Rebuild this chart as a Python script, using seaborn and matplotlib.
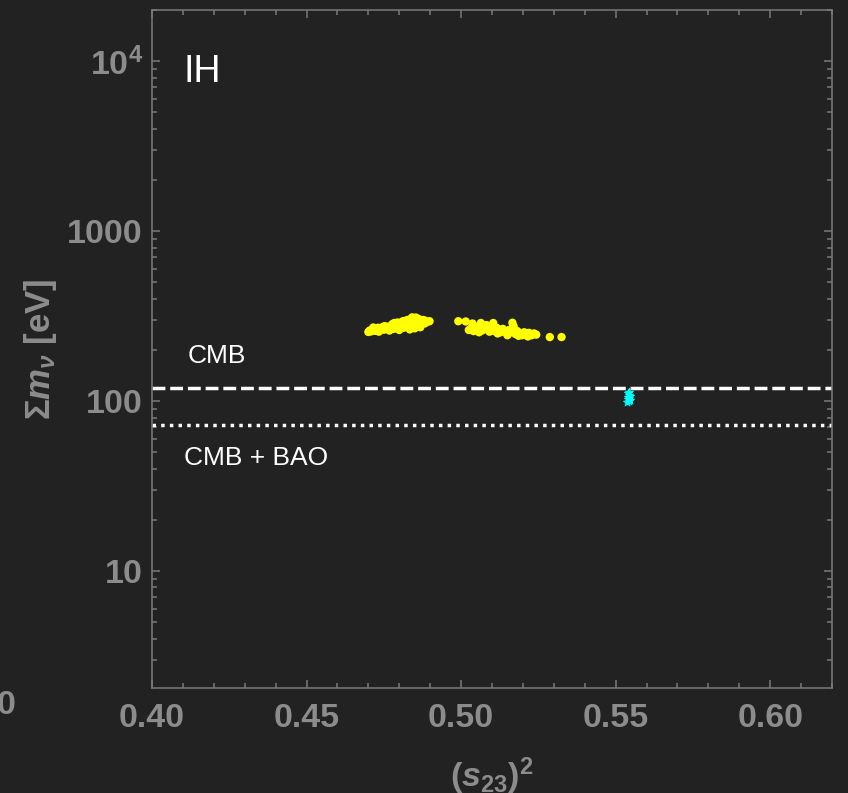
import matplotlib
matplotlib.use("Agg")
import matplotlib.pyplot as plt
import matplotlib.ticker as mticker
import pandas as pd
import seaborn as sns

# yellow points, two clusters
s23_yellow = [
    0.4700, 0.4704, 0.4709, 0.4713, 0.4718, 0.4722, 0.4727, 0.4731, 0.4736, 0.4740,
    0.4745, 0.4750, 0.4755, 0.4760, 0.4765, 0.4770, 0.4774, 0.4778, 0.4782, 0.4786,
    0.4790, 0.4794, 0.4798, 0.4802, 0.4806, 0.4810, 0.4814, 0.4818, 0.4822, 0.4826,
    0.4830, 0.4833, 0.4836, 0.4839, 0.4842, 0.4845, 0.4848, 0.4851, 0.4854, 0.4857,
    0.4860, 0.4863, 0.4866, 0.4870, 0.4874, 0.4878, 0.4882, 0.4886, 0.4890, 0.4898,
    0.4716, 0.4734, 0.4752, 0.4768, 0.4784, 0.4800, 0.4816, 0.4834, 0.4850, 0.4868,
    0.4991, 0.5015, 0.5037, 0.5064, 0.5104, 0.5166,
    0.5025, 0.5032, 0.5040, 0.5048, 0.5055, 0.5062, 0.5068, 0.5075, 0.5082, 0.5088,
    0.5095, 0.5102, 0.5108, 0.5115, 0.5122, 0.5128, 0.5135, 0.5142, 0.5148, 0.5155,
    0.5162, 0.5170, 0.5176, 0.5182, 0.5190, 0.5197, 0.5204, 0.5212, 0.5220, 0.5228,
    0.5236, 0.5243, 0.5058, 0.5092, 0.5118, 0.5150, 0.5186, 0.5216,
    0.5287, 0.5325,
]
sum_m_yellow = [
    255, 260, 257, 262, 266, 259, 264, 270, 261, 267,
    272, 263, 268, 274, 264, 270, 278, 284, 266, 274,
    282, 290, 268, 277, 286, 294, 270, 280, 290, 300,
    272, 284, 296, 306, 311, 276, 288, 300, 310, 280,
    292, 304, 286, 298, 290, 300, 286, 296, 292, 295,
    271, 256, 276, 260, 288, 262, 296, 264, 268, 272,
    295, 294, 286, 288, 288, 289,
    262, 268, 258, 272, 264, 276, 260, 270, 280, 262,
    272, 266, 258, 270, 262, 254, 266, 258, 250, 262,
    254, 276, 248, 258, 250, 244, 254, 246, 252, 244,
    250, 246, 254, 256, 250, 244, 242, 240,
    238, 238,
]

# cyan points
s23_cyan = [0.5538, 0.5542, 0.5546, 0.5540, 0.5544, 0.5539, 0.5545, 0.5542, 0.5541, 0.5543]
sum_m_cyan = [99, 100, 101, 103, 104, 106, 107, 109, 111, 113]

cmb_limit = 120
cmb_bao_limit = 72

x_ticks = [0.40, 0.45, 0.50, 0.55, 0.60]
x_tick_labels = ["0.40", "0.45", "0.50", "0.55", "0.60"]
y_ticks = [10, 100, 1000, 10000]
y_tick_labels = ["10", "100", "1000", "$\\mathbf{10^4}$"]

BG = "#222222"
GREY = "#8c8c8c"
FRAME = "#7a7a7a"

sns.set_style("dark", {"axes.facecolor": BG, "figure.facecolor": BG})
plt.rcParams["font.family"] = ["Liberation Sans", "DejaVu Sans"]
plt.rcParams.update({
    "mathtext.fontset": "custom",
    "mathtext.rm": "Liberation Sans:bold",
    "mathtext.it": "Liberation Sans:italic:bold",
    "mathtext.bf": "Liberation Sans:bold",
})

fig = plt.figure(figsize=(8.48, 7.93), dpi=100)
ax = fig.add_axes([152 / 848, 1 - 688 / 793, 680 / 848, 678 / 793])

df_y = pd.DataFrame({"s23": s23_yellow, "summ": sum_m_yellow})
df_c = pd.DataFrame({"s23": s23_cyan, "summ": sum_m_cyan})

sns.scatterplot(data=df_y, x="s23", y="summ", color="#ffff00", s=36,
                edgecolor="none", linewidth=0, ax=ax)
sns.scatterplot(data=df_c, x="s23", y="summ", color="#00ffff", s=40, marker="*",
                edgecolor="#00ffff", linewidth=0.5, ax=ax)

ax.axhline(cmb_limit, color="white", lw=2.5, linestyle=(0, (3.7, 1.4)))
ax.axhline(cmb_bao_limit, color="white", lw=2.5, linestyle=(0, (1.0, 1.5)))

ax.set_yscale("log")
ax.set_xlim(0.40, 0.62)
ax.set_ylim(2.05, 2.0e4)

ax.xaxis.set_major_locator(mticker.FixedLocator(x_ticks))
ax.xaxis.set_major_formatter(mticker.FixedFormatter(x_tick_labels))
ax.xaxis.set_minor_locator(mticker.MultipleLocator(0.01))
ax.yaxis.set_major_locator(mticker.FixedLocator(y_ticks))
ax.yaxis.set_major_formatter(mticker.FixedFormatter(y_tick_labels))
ax.yaxis.set_minor_locator(mticker.LogLocator(base=10, subs=range(2, 10)))
ax.yaxis.set_minor_formatter(mticker.NullFormatter())

ax.tick_params(which="both", direction="in", top=True, right=True,
               bottom=True, left=True, color=FRAME, width=1.1)
ax.tick_params(which="major", length=6)
ax.tick_params(which="minor", length=3.6)
ax.tick_params(axis="x", which="major", pad=10.5, labelsize=24.5, labelcolor=GREY)
ax.tick_params(axis="y", which="major", pad=6.5, labelsize=24.5, labelcolor=GREY)
for lab in ax.get_xticklabels() + ax.get_yticklabels():
    lab.set_fontweight("bold")

for sp in ax.spines.values():
    sp.set_color(FRAME)
    sp.set_linewidth(1.1)
    sp.set_visible(True)

ax.set_xlabel("$(s_{23})^{2}$", fontsize=24.5, color=GREY)
ax.set_ylabel("$\\Sigma m_{\\nu}$ [eV]", fontsize=25, color=GREY, fontweight="bold")
ax.xaxis.set_label_coords(0.5, -0.1)
ax.yaxis.set_label_coords(-0.137, 0.5)

ax.text(0.0456, 0.894, "IH", transform=ax.transAxes, fontsize=27,
        color="white", va="baseline", ha="left")
ax.text(0.053, 0.479, "CMB", transform=ax.transAxes, fontsize=19,
        color="white", va="baseline", ha="left")
ax.text(0.047, 0.329, "CMB + BAO", transform=ax.transAxes, fontsize=19,
        color="white", va="baseline", ha="left")

# leftover tick label from the neighbouring panel
fig.text(15 / 848, 1 - 706 / 793, "0", fontsize=24.5, color=GREY,
         fontweight="bold", ha="right", va="center")

fig.savefig("out.png", dpi=100, facecolor=BG)
